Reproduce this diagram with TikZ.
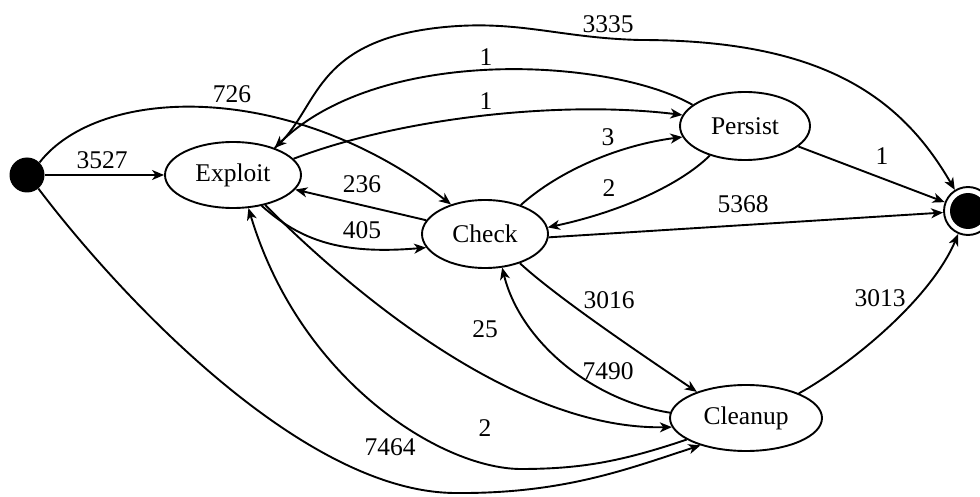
\documentclass[tikz,border=0pt]{standalone}
\usepackage{fontspec}
\setmainfont{Liberation Serif}
\usetikzlibrary{shapes.geometric,arrows.meta}
\tikzset{
  state/.style={ellipse, draw, line width=1.9pt, inner sep=0pt,
    font=\fontsize{25.5}{30}\selectfont},
  edge/.style={line width=1.9pt, -{Stealth[length=12pt,width=10pt,inset=3.5pt]}},
  lab/.style={inner sep=0pt, font=\fontsize{25.5}{30}\selectfont},
}
\begin{document}
\begin{tikzpicture}[x=1pt,y=-1pt]
\useasboundingbox (0,0) rectangle (980,497);

% states
\node[circle, fill=black, minimum size=35pt, inner sep=0pt] (start) at (27,175) {};
\node[state, minimum width=136pt, minimum height=66pt] (exploit) at (233,175) {Exploit};
\node[state, minimum width=126pt, minimum height=68pt] (check) at (485,234) {Check};
\node[state, minimum width=130pt, minimum height=68pt] (persist) at (745,126) {Persist};
\node[state, minimum width=152pt, minimum height=66pt] (cleanup) at (746,418) {Cleanup};
\node[circle, draw, line width=1.9pt, minimum size=48pt, inner sep=0pt] (final) at (968,211) {};
\node[circle, fill=black, minimum size=36pt, inner sep=0pt] (finalcore) at (968,211) {};

% transitions
\draw[edge] (start.east) -- (exploit.west);
\draw[edge] (start.45) .. controls (100,85) and (290,80) .. (check.139);
\draw[edge] (start.-50) .. controls (115,290) and (300,492) .. (455,493)
  .. controls (565,494) and (630,468) .. (cleanup.211.5);
\draw[edge] (exploit.15) .. controls (400,118) and (560,100) .. (persist.170);
\draw[edge] (persist.158) .. controls (610,58) and (380,45) .. (exploit.33);
\draw[edge] (persist.-21) -- (final);
\draw[edge] (exploit.-47) .. controls (300,240) and (340,255) .. (check.193.6);
\draw[edge] (check) -- (exploit);
\draw[edge] (check.39) .. controls (560,170) and (620,145) .. (persist.190);
\draw[edge] (persist.220) .. controls (680,185) and (620,212) .. (check.6);
\draw[edge] (check.-3) -- (final);
\draw[edge] (check.-40) .. controls (560,300) and (650,360) .. (cleanup.152);
\draw[edge] (cleanup.176) .. controls (590,400) and (520,340) .. (check.-63);
\draw[edge] (exploit.-43) .. controls (360,300) and (520,430) .. (cleanup.187.5);
\draw[edge] (cleanup.200) .. controls (620,462) and (580,469) .. (520,469)
  .. controls (440,468) and (300,380) .. (exploit.-65.6);
\draw[edge] (cleanup.25) .. controls (850,365) and (930,300) .. (final.247);
\draw[edge] (exploit.33) .. controls (320,110) and (310,40) .. (445,27)
  .. controls (520,20) and (560,38) .. (640,40)
  .. controls (820,40) and (900,95) .. (final.122);

% transition counts
\node[lab] (l3527) at (102,160) {3527};
\node[lab] (l726) at (232,94) {726};
\node[lab] (l7464) at (390,447) {7464};
\node[lab] (l1a) at (486,101) {1};
\node[lab] (l1b) at (486,57) {1};
\node[lab] (l1c) at (882,156) {1};
\node[lab] (l3335) at (608,24) {3335};
\node[lab] (l236) at (362,184) {236};
\node[lab] (l405) at (362,230) {405};
\node[lab] (l3) at (608,137) {3};
\node[lab] (l2a) at (609,188) {2};
\node[lab] (l5368) at (743,204) {5368};
\node[lab] (l3016) at (609,300) {3016};
\node[lab] (l7490) at (608,371) {7490};
\node[lab] (l25) at (485,329) {25};
\node[lab] (l2b) at (485,428) {2};
\node[lab] (l3013) at (880,298) {3013};
\end{tikzpicture}
\end{document}
